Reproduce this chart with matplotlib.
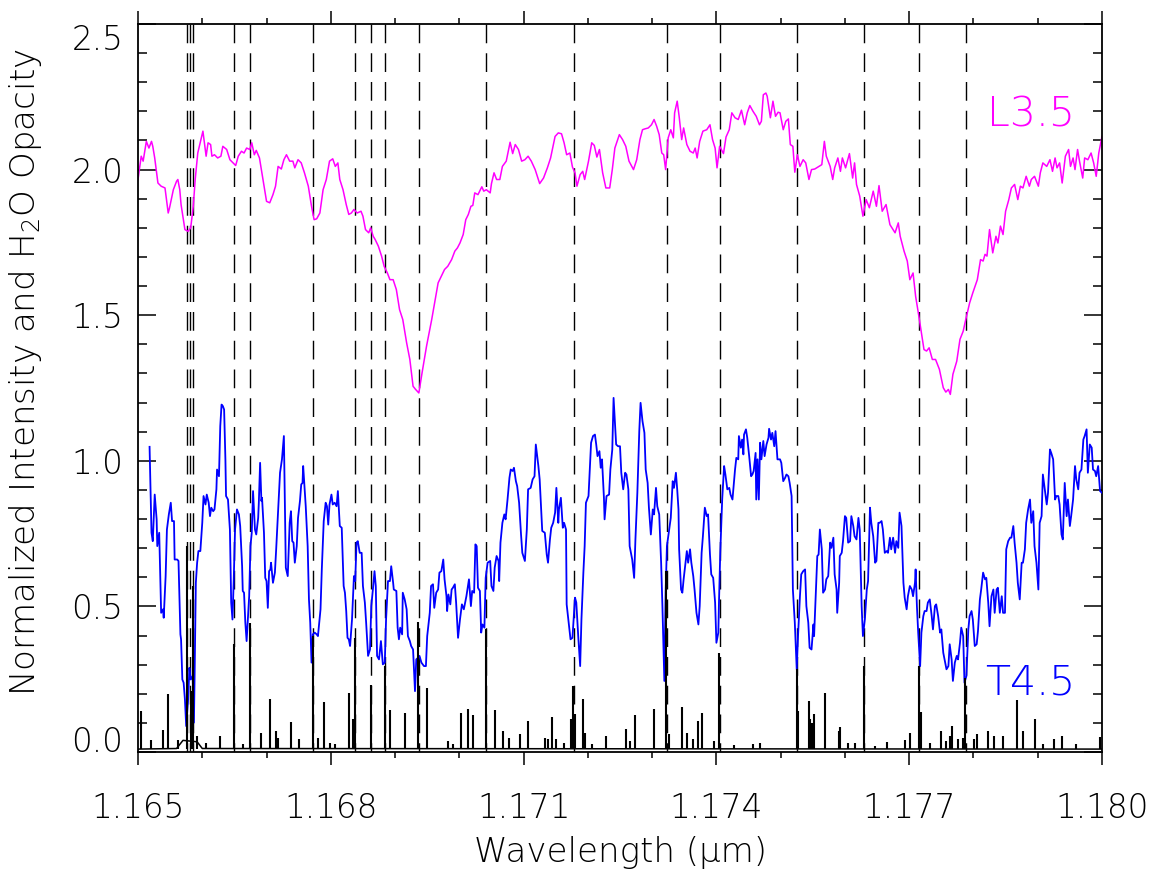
import matplotlib
matplotlib.use("Agg")
import matplotlib.pyplot as plt
from matplotlib.ticker import FixedLocator, MultipleLocator, FormatStrFormatter

# ---- data (wavelength in micron) ----
# L3.5 spectrum (offset, magenta)
L35_WL = [
    1.16500, 1.16505, 1.16508, 1.16513, 1.16517, 1.16521, 1.16523, 1.16526, 1.16531, 1.16536,
    1.16542, 1.16547, 1.16549, 1.16555, 1.16560, 1.16562, 1.16565, 1.16567, 1.16573, 1.16578,
    1.16582, 1.16586, 1.16589, 1.16593, 1.16598, 1.16601, 1.16604, 1.16606, 1.16609, 1.16613,
    1.16615, 1.16619, 1.16624, 1.16629, 1.16632, 1.16638, 1.16643, 1.16648, 1.16652, 1.16656,
    1.16661, 1.16665, 1.16669, 1.16674, 1.16677, 1.16681, 1.16684, 1.16689, 1.16695, 1.16700,
    1.16705, 1.16710, 1.16714, 1.16718, 1.16723, 1.16727, 1.16731, 1.16736, 1.16741, 1.16744,
    1.16749, 1.16754, 1.16759, 1.16765, 1.16770, 1.16774, 1.16778, 1.16783, 1.16788, 1.16793,
    1.16798, 1.16803, 1.16807, 1.16811, 1.16814, 1.16819, 1.16824, 1.16828, 1.16832, 1.16836,
    1.16841, 1.16847, 1.16850, 1.16854, 1.16859, 1.16862, 1.16866, 1.16869, 1.16874, 1.16879,
    1.16883, 1.16888, 1.16892, 1.16897, 1.16902, 1.16907, 1.16912, 1.16918, 1.16923, 1.16928,
    1.16932, 1.16937, 1.16942, 1.16949, 1.16957, 1.16963, 1.16967, 1.16972, 1.16977, 1.16982,
    1.16988, 1.16993, 1.16997,
    1.17001, 1.17006, 1.17010, 1.17014, 1.17018, 1.17021, 1.17024, 1.17029, 1.17035, 1.17038,
    1.17042, 1.17048, 1.17050, 1.17054, 1.17058, 1.17063, 1.17067, 1.17073, 1.17075, 1.17079,
    1.17083, 1.17087, 1.17092, 1.17097, 1.17102, 1.17107, 1.17112, 1.17118, 1.17125, 1.17131,
    1.17137, 1.17142, 1.17149, 1.17154, 1.17159, 1.17163, 1.17167, 1.17172, 1.17176, 1.17180,
    1.17183, 1.17188, 1.17192, 1.17195, 1.17201, 1.17206, 1.17210, 1.17214, 1.17218, 1.17223,
    1.17228, 1.17234, 1.17238, 1.17242, 1.17249, 1.17254, 1.17259, 1.17264, 1.17271, 1.17276,
    1.17281, 1.17285, 1.17289, 1.17294, 1.17299, 1.17303, 1.17307, 1.17311, 1.17315, 1.17318,
    1.17321, 1.17325, 1.17329, 1.17333, 1.17335, 1.17339, 1.17342, 1.17346, 1.17349, 1.17354,
    1.17359, 1.17364, 1.17367, 1.17370, 1.17374, 1.17379, 1.17385, 1.17390, 1.17394, 1.17398,
    1.17401, 1.17405, 1.17411, 1.17415, 1.17420, 1.17424, 1.17429, 1.17434, 1.17439, 1.17444,
    1.17448, 1.17452, 1.17457, 1.17462, 1.17467, 1.17470, 1.17473, 1.17477, 1.17479, 1.17484,
    1.17488, 1.17492, 1.17496,
    1.17499, 1.17504, 1.17508, 1.17512, 1.17515, 1.17519, 1.17522, 1.17526, 1.17530, 1.17535,
    1.17539, 1.17544, 1.17548, 1.17553, 1.17558, 1.17564, 1.17568, 1.17571, 1.17577, 1.17581,
    1.17584, 1.17589, 1.17593, 1.17596, 1.17601, 1.17607, 1.17612, 1.17615, 1.17618, 1.17623,
    1.17628, 1.17633, 1.17638, 1.17644, 1.17649, 1.17653, 1.17658, 1.17664, 1.17670, 1.17678,
    1.17683, 1.17686, 1.17692, 1.17697, 1.17701, 1.17706, 1.17710, 1.17715, 1.17719, 1.17723,
    1.17727, 1.17731, 1.17736, 1.17741, 1.17747, 1.17753, 1.17757, 1.17761, 1.17764, 1.17768,
    1.17774, 1.17779, 1.17784, 1.17788, 1.17794, 1.17799, 1.17806, 1.17811, 1.17815, 1.17818,
    1.17821, 1.17825, 1.17830, 1.17835, 1.17838, 1.17842, 1.17846, 1.17850, 1.17855, 1.17859,
    1.17864, 1.17869, 1.17873, 1.17877, 1.17882, 1.17887, 1.17890, 1.17895, 1.17901, 1.17904,
    1.17908, 1.17914, 1.17919, 1.17923, 1.17927, 1.17930, 1.17934, 1.17938, 1.17943, 1.17948,
    1.17951, 1.17955, 1.17958, 1.17962, 1.17965, 1.17970, 1.17973, 1.17978, 1.17983, 1.17987,
    1.17991, 1.17995, 1.18000,
]
L35_VAL = [
    1.966, 2.046, 2.029, 2.097, 2.074, 2.097, 2.080, 2.040, 1.954, 1.943,
    1.937, 1.851, 1.868, 1.931, 1.960, 1.966, 1.931, 1.880, 1.794, 1.788,
    1.800, 1.874, 1.966, 2.057, 2.103, 2.132, 2.080, 2.046, 2.092, 2.086,
    2.046, 2.051, 2.040, 2.046, 2.080, 2.069, 2.034, 2.023, 2.014, 2.046,
    2.063, 2.057, 2.074, 2.069, 2.092, 2.051, 2.066, 2.040, 1.960, 1.891,
    1.886, 1.914, 1.943, 2.011, 2.002, 2.034, 2.051, 2.029, 2.029, 2.006,
    2.034, 2.023, 1.989, 1.943, 1.874, 1.828, 1.831, 1.851, 1.931, 1.966,
    2.029, 2.037, 2.011, 2.023, 1.966, 1.931, 1.880, 1.846, 1.851, 1.863,
    1.851, 1.857, 1.840, 1.794, 1.783, 1.800, 1.771, 1.760, 1.737, 1.703,
    1.668, 1.645, 1.622, 1.622, 1.588, 1.519, 1.485, 1.405, 1.348, 1.256,
    1.245, 1.233, 1.302, 1.394, 1.485, 1.560, 1.611, 1.634, 1.657, 1.668,
    1.691, 1.720, 1.731,
    1.748, 1.777, 1.828, 1.846, 1.874, 1.877, 1.920, 1.914, 1.941, 1.926,
    1.931, 1.920, 1.952, 1.989, 1.966, 1.966, 2.011, 2.029, 2.051, 2.094,
    2.055, 2.086, 2.069, 2.029, 2.034, 2.046, 2.029, 2.000, 1.952, 1.971,
    2.006, 2.040, 2.114, 2.126, 2.123, 2.092, 2.051, 2.057, 2.009, 1.989,
    1.943, 1.983, 1.994, 1.966, 2.029, 2.092, 2.083, 2.043, 2.069, 1.989,
    1.937, 1.937, 2.000, 2.074, 2.120, 2.103, 2.080, 2.029, 2.000, 2.034,
    2.103, 2.137, 2.140, 2.143, 2.154, 2.172, 2.149, 2.120, 2.057, 2.051,
    2.000, 2.109, 2.137, 2.109, 2.195, 2.235, 2.183, 2.103, 2.143, 2.086,
    2.063, 2.057, 2.074, 2.040, 2.097, 2.132, 2.137, 2.154, 2.103, 2.074,
    2.006, 2.080, 2.055, 2.112, 2.137, 2.195, 2.178, 2.172, 2.204, 2.154,
    2.195, 2.220, 2.200, 2.183, 2.154, 2.166, 2.257, 2.263, 2.252, 2.178,
    2.235, 2.183, 2.197,
    2.195, 2.137, 2.166, 2.174, 2.086, 2.080, 1.991, 2.051, 2.011, 2.034,
    2.023, 1.966, 2.000, 2.002, 2.009, 2.017, 2.097, 2.046, 2.011, 1.966,
    2.006, 2.040, 1.994, 2.040, 2.006, 2.055, 1.971, 2.023, 1.949, 1.909,
    1.840, 1.897, 1.869, 1.926, 1.874, 1.945, 1.857, 1.880, 1.811, 1.783,
    1.817, 1.771, 1.720, 1.686, 1.622, 1.645, 1.565, 1.497, 1.439, 1.382,
    1.377, 1.388, 1.348, 1.348, 1.314, 1.251, 1.236, 1.245, 1.228, 1.297,
    1.342, 1.417, 1.445, 1.485, 1.542, 1.577, 1.622, 1.691, 1.686, 1.709,
    1.703, 1.794, 1.714, 1.771, 1.748, 1.806, 1.777, 1.857, 1.897, 1.937,
    1.949, 1.897, 1.943, 1.937, 1.977, 1.943, 1.966, 1.977, 1.943, 1.989,
    2.023, 2.011, 2.034, 1.994, 2.040, 2.006, 2.023, 1.954, 2.046, 2.069,
    2.011, 2.040, 2.000, 2.069, 2.029, 1.971, 2.040, 2.034, 2.057, 2.023,
    1.977, 2.057, 2.114,
]

# T4.5 spectrum (blue)
T45_WL = [
    1.16518, 1.16521, 1.16523, 1.16526, 1.16529, 1.16530, 1.16533, 1.16536, 1.16539, 1.16540,
    1.16543, 1.16545, 1.16548, 1.16551, 1.16553, 1.16556, 1.16557, 1.16561, 1.16563, 1.16566,
    1.16567, 1.16569, 1.16571, 1.16573, 1.16575, 1.16578, 1.16580, 1.16582, 1.16585, 1.16587,
    1.16588, 1.16590, 1.16592, 1.16594, 1.16597, 1.16600, 1.16602, 1.16605, 1.16607, 1.16610,
    1.16612, 1.16614, 1.16617, 1.16619, 1.16622, 1.16623, 1.16626, 1.16628, 1.16630, 1.16632,
    1.16634, 1.16636, 1.16637, 1.16640, 1.16643, 1.16645, 1.16647, 1.16649, 1.16651, 1.16654,
    1.16657, 1.16659, 1.16662, 1.16663, 1.16665, 1.16667, 1.16669, 1.16671, 1.16673, 1.16675,
    1.16677, 1.16679, 1.16682, 1.16684, 1.16687, 1.16688, 1.16690, 1.16692, 1.16693, 1.16696,
    1.16698, 1.16700, 1.16702, 1.16704, 1.16706, 1.16707, 1.16710, 1.16713, 1.16715, 1.16719,
    1.16721, 1.16724, 1.16727, 1.16730, 1.16733, 1.16736, 1.16738, 1.16740, 1.16742, 1.16744,
    1.16747, 1.16749, 1.16752, 1.16754, 1.16756, 1.16757, 1.16759, 1.16761, 1.16764, 1.16766,
    1.16768, 1.16770, 1.16772, 1.16775, 1.16778, 1.16780, 1.16784, 1.16786, 1.16789, 1.16792,
    1.16794, 1.16796, 1.16798, 1.16801, 1.16803, 1.16806, 1.16809, 1.16811, 1.16814, 1.16817,
    1.16820, 1.16822, 1.16824, 1.16826, 1.16828, 1.16830, 1.16833, 1.16836, 1.16838, 1.16840,
    1.16842, 1.16845, 1.16848, 1.16850, 1.16853, 1.16855, 1.16858, 1.16861, 1.16863, 1.16866,
    1.16868, 1.16870, 1.16872, 1.16875, 1.16878, 1.16881, 1.16884, 1.16886, 1.16889, 1.16892,
    1.16894, 1.16897, 1.16898, 1.16902, 1.16904, 1.16906, 1.16908, 1.16911, 1.16912, 1.16915,
    1.16918, 1.16920, 1.16923, 1.16925, 1.16928, 1.16931, 1.16933, 1.16936, 1.16938, 1.16941,
    1.16945, 1.16948, 1.16950, 1.16954, 1.16956, 1.16959, 1.16961, 1.16964, 1.16967, 1.16969,
    1.16972, 1.16975, 1.16977, 1.16980, 1.16981, 1.16983, 1.16986, 1.16988, 1.16990, 1.16993,
    1.16995, 1.16998,
    1.17001, 1.17004, 1.17007, 1.17011, 1.17015, 1.17018, 1.17020, 1.17023, 1.17025, 1.17027,
    1.17029, 1.17032, 1.17034, 1.17036, 1.17039, 1.17041, 1.17044, 1.17048, 1.17050, 1.17053,
    1.17055, 1.17058, 1.17061, 1.17062, 1.17064, 1.17067, 1.17070, 1.17072, 1.17075, 1.17078,
    1.17080, 1.17083, 1.17085, 1.17088, 1.17090, 1.17093, 1.17096, 1.17098, 1.17102, 1.17105,
    1.17107, 1.17111, 1.17114, 1.17117, 1.17119, 1.17123, 1.17125, 1.17129, 1.17133, 1.17136,
    1.17138, 1.17141, 1.17143, 1.17146, 1.17149, 1.17151, 1.17154, 1.17155, 1.17158, 1.17161,
    1.17163, 1.17166, 1.17167, 1.17169, 1.17173, 1.17176, 1.17180, 1.17182, 1.17185, 1.17188,
    1.17190, 1.17193, 1.17195, 1.17197, 1.17201, 1.17205, 1.17208, 1.17211, 1.17213, 1.17215,
    1.17218, 1.17220, 1.17222, 1.17225, 1.17226, 1.17229, 1.17233, 1.17235, 1.17238, 1.17240,
    1.17244, 1.17247, 1.17250, 1.17252, 1.17255, 1.17258, 1.17260, 1.17263, 1.17265, 1.17269,
    1.17272, 1.17274, 1.17277, 1.17280, 1.17282, 1.17285, 1.17288, 1.17290, 1.17293, 1.17295,
    1.17298, 1.17301, 1.17303, 1.17306, 1.17308, 1.17311, 1.17314, 1.17316, 1.17319, 1.17321,
    1.17323, 1.17327, 1.17329, 1.17332, 1.17334, 1.17337, 1.17339, 1.17341, 1.17342, 1.17345,
    1.17347, 1.17349, 1.17351, 1.17354, 1.17356, 1.17359, 1.17361, 1.17364, 1.17366, 1.17369,
    1.17372, 1.17374, 1.17377, 1.17379, 1.17382, 1.17385, 1.17387, 1.17390, 1.17392, 1.17395,
    1.17398, 1.17400, 1.17403, 1.17404, 1.17406, 1.17409, 1.17412, 1.17414, 1.17417, 1.17420,
    1.17422, 1.17425, 1.17429, 1.17431, 1.17434, 1.17435, 1.17438, 1.17440, 1.17442, 1.17443,
    1.17446, 1.17448, 1.17451, 1.17454, 1.17456, 1.17458, 1.17461, 1.17462, 1.17464, 1.17466,
    1.17468, 1.17470, 1.17473, 1.17475, 1.17478, 1.17481, 1.17482, 1.17485, 1.17487, 1.17490,
    1.17492, 1.17495,
    1.17499, 1.17501, 1.17504, 1.17507, 1.17509, 1.17512, 1.17514, 1.17517, 1.17519, 1.17522,
    1.17525, 1.17527, 1.17530, 1.17532, 1.17535, 1.17538, 1.17540, 1.17543, 1.17545, 1.17548,
    1.17551, 1.17552, 1.17555, 1.17557, 1.17559, 1.17561, 1.17564, 1.17566, 1.17569, 1.17571,
    1.17574, 1.17577, 1.17579, 1.17582, 1.17584, 1.17587, 1.17588, 1.17591, 1.17592, 1.17595,
    1.17597, 1.17600, 1.17602, 1.17605, 1.17608, 1.17610, 1.17613, 1.17615, 1.17618, 1.17621,
    1.17623, 1.17626, 1.17628, 1.17631, 1.17634, 1.17636, 1.17639, 1.17641, 1.17644, 1.17647,
    1.17649, 1.17652, 1.17654, 1.17657, 1.17659, 1.17662, 1.17665, 1.17667, 1.17670, 1.17672,
    1.17675, 1.17678, 1.17680, 1.17683, 1.17685, 1.17688, 1.17691, 1.17693, 1.17696, 1.17698,
    1.17701, 1.17704, 1.17706, 1.17709, 1.17710, 1.17712, 1.17714, 1.17717, 1.17719, 1.17722,
    1.17724, 1.17727, 1.17729, 1.17732, 1.17735, 1.17737, 1.17740, 1.17742, 1.17745, 1.17748,
    1.17750, 1.17753, 1.17755, 1.17758, 1.17761, 1.17763, 1.17766, 1.17768, 1.17771, 1.17774,
    1.17776, 1.17779, 1.17781, 1.17784, 1.17786, 1.17789, 1.17792, 1.17794, 1.17797, 1.17799,
    1.17802, 1.17805, 1.17807, 1.17810, 1.17812, 1.17815, 1.17818, 1.17820, 1.17823, 1.17825,
    1.17828, 1.17831, 1.17833, 1.17836, 1.17838, 1.17841, 1.17844, 1.17846, 1.17849, 1.17851,
    1.17854, 1.17857, 1.17859, 1.17862, 1.17864, 1.17867, 1.17869, 1.17872, 1.17875, 1.17877,
    1.17880, 1.17882, 1.17885, 1.17888, 1.17890, 1.17893, 1.17895, 1.17898, 1.17901, 1.17903,
    1.17906, 1.17908, 1.17911, 1.17914, 1.17916, 1.17919, 1.17921, 1.17924, 1.17927, 1.17929,
    1.17932, 1.17934, 1.17937, 1.17939, 1.17942, 1.17945, 1.17947, 1.17950, 1.17952, 1.17955,
    1.17958, 1.17960, 1.17963, 1.17965, 1.17968, 1.17971, 1.17973, 1.17976, 1.17978, 1.17981,
    1.17984, 1.17986, 1.17989, 1.17991, 1.17994, 1.17997, 1.18000,
]
T45_VAL = [
    1.048, 0.753, 0.724, 0.884, 0.799, 0.707, 0.753, 0.478, 0.490, 0.461,
    0.604, 0.764, 0.816, 0.856, 0.793, 0.793, 0.661, 0.661, 0.656, 0.404,
    0.387, 0.249, 0.238, 0.181, 0.089, 0.181, 0.289, 0.249, 0.261, 0.101,
    0.249, 0.581, 0.650, 0.690, 0.690, 0.787, 0.879, 0.850, 0.884, 0.856,
    0.810, 0.839, 0.827, 0.833, 0.902, 0.970, 0.947, 1.119, 1.193, 1.188,
    1.176, 1.005, 0.879, 0.867, 0.764, 0.513, 0.455, 0.593, 0.764, 0.833,
    0.816, 0.776, 0.638, 0.553, 0.547, 0.444, 0.381, 0.455, 0.535, 0.707,
    0.753, 0.896, 0.764, 0.747, 0.804, 0.856, 0.993, 0.862, 0.873, 0.753,
    0.598, 0.587, 0.495, 0.621, 0.627, 0.650, 0.581, 0.616, 0.696, 0.867,
    0.959, 1.005, 1.085, 0.633, 0.604, 0.787, 0.827, 0.724, 0.719, 0.650,
    0.707, 0.804, 0.862, 0.919, 0.924, 0.982, 0.913, 0.844, 0.707, 0.524,
    0.444, 0.307, 0.404, 0.410, 0.404, 0.398, 0.490, 0.627, 0.793, 0.856,
    0.844, 0.781, 0.850, 0.884, 0.850, 0.856, 0.844, 0.896, 0.776, 0.770,
    0.570, 0.547, 0.484, 0.392, 0.387, 0.364, 0.455, 0.604, 0.587, 0.719,
    0.724, 0.684, 0.684, 0.570, 0.513, 0.444, 0.330, 0.352, 0.501, 0.570,
    0.621, 0.570, 0.330, 0.318, 0.381, 0.301, 0.307, 0.455, 0.587, 0.587,
    0.638, 0.581, 0.558, 0.553, 0.427, 0.387, 0.427, 0.404, 0.547, 0.524,
    0.490, 0.398, 0.381, 0.364, 0.352, 0.209, 0.318, 0.324, 0.330, 0.307,
    0.295, 0.295, 0.398, 0.478, 0.570, 0.576, 0.495, 0.547, 0.558, 0.616,
    0.621, 0.661, 0.593, 0.535, 0.484, 0.541, 0.507, 0.558, 0.564, 0.576,
    0.513, 0.392,
    0.455, 0.507, 0.490, 0.535, 0.593, 0.501, 0.553, 0.547, 0.713, 0.707,
    0.564, 0.553, 0.410, 0.438, 0.427, 0.598, 0.650, 0.656, 0.570, 0.553,
    0.633, 0.673, 0.656, 0.587, 0.719, 0.787, 0.816, 0.799, 0.867, 0.942,
    0.970, 0.965, 0.976, 0.930, 0.913, 0.856, 0.747, 0.684, 0.656, 0.764,
    0.902, 0.907, 0.936, 0.947, 1.056, 0.982, 0.936, 0.759, 0.753, 0.678,
    0.650, 0.730, 0.770, 0.787, 0.822, 0.907, 0.787, 0.833, 0.873, 0.770,
    0.787, 0.764, 0.507, 0.467, 0.387, 0.392, 0.530, 0.513, 0.398, 0.295,
    0.455, 0.616, 0.707, 0.856, 0.879, 1.062, 1.085, 1.090, 1.056, 1.016,
    1.033, 0.976, 1.005, 0.873, 0.799, 0.879, 0.884, 0.970, 1.039, 1.216,
    1.056, 1.050, 1.050, 0.959, 0.902, 0.959, 0.953, 0.902, 0.707, 0.661,
    0.598, 0.730, 0.890, 1.102, 1.199, 1.136, 1.096, 0.970, 0.924, 0.839,
    0.747, 0.833, 0.816, 0.907, 0.844, 0.816, 0.650, 0.501, 0.244, 0.547,
    0.707, 0.770, 0.804, 0.930, 0.907, 0.959, 0.902, 0.833, 0.696, 0.558,
    0.547, 0.593, 0.633, 0.690, 0.650, 0.696, 0.650, 0.604, 0.558, 0.478,
    0.438, 0.501, 0.684, 0.741, 0.839, 0.810, 0.816, 0.678, 0.610, 0.598,
    0.513, 0.375, 0.410, 0.513, 0.684, 0.867, 0.982, 0.953, 0.902, 0.907,
    0.884, 0.867, 0.970, 1.010, 1.005, 1.085, 1.045, 1.073, 1.022, 1.090,
    1.108, 1.079, 1.016, 0.947, 0.953, 0.965, 1.027, 0.867, 1.005, 0.867,
    1.062, 1.005, 1.068, 1.016, 1.056, 1.079, 1.110, 1.073, 1.096, 1.050,
    1.102, 1.005,
    1.005, 0.993, 0.930, 0.942, 0.953, 0.947, 0.924, 0.879, 0.558, 0.444,
    0.284, 0.398, 0.535, 0.610, 0.621, 0.627, 0.501, 0.444, 0.358, 0.352,
    0.438, 0.398, 0.558, 0.673, 0.678, 0.764, 0.696, 0.547, 0.558, 0.593,
    0.604, 0.719, 0.701, 0.736, 0.610, 0.558, 0.478, 0.581, 0.673, 0.684,
    0.724, 0.810, 0.804, 0.719, 0.724, 0.810, 0.776, 0.741, 0.730, 0.804,
    0.764, 0.501, 0.398, 0.455, 0.558, 0.587, 0.839, 0.787, 0.741, 0.650,
    0.656, 0.787, 0.787, 0.793, 0.764, 0.684, 0.690, 0.684, 0.736, 0.696,
    0.736, 0.684, 0.724, 0.701, 0.822, 0.776, 0.581, 0.530, 0.490, 0.535,
    0.570, 0.558, 0.535, 0.581, 0.627, 0.501, 0.410, 0.295, 0.410, 0.467,
    0.484, 0.484, 0.513, 0.524, 0.467, 0.421, 0.501, 0.507, 0.467, 0.410,
    0.421, 0.341, 0.318, 0.284, 0.295, 0.370, 0.318, 0.244, 0.307, 0.330,
    0.318, 0.375, 0.427, 0.398, 0.238, 0.261, 0.421, 0.467, 0.484, 0.455,
    0.364, 0.370, 0.415, 0.524, 0.558, 0.616, 0.593, 0.598, 0.513, 0.432,
    0.535, 0.558, 0.478, 0.558, 0.564, 0.478, 0.535, 0.478, 0.478, 0.696,
    0.724, 0.736, 0.736, 0.776, 0.719, 0.650, 0.581, 0.524, 0.650, 0.650,
    0.696, 0.787, 0.833, 0.867, 0.787, 0.827, 0.707, 0.650, 0.558, 0.787,
    0.810, 0.953, 0.902, 0.850, 0.890, 1.039, 1.027, 1.005, 0.867, 0.879,
    0.879, 0.850, 0.747, 0.730, 0.924, 0.810, 0.867, 0.776, 0.810, 0.867,
    0.982, 0.936, 0.902, 0.959, 0.970, 1.073, 1.085, 1.108, 0.959, 1.056,
    1.045, 0.970, 0.965, 0.947, 0.982, 0.896, 0.890,
]

# H2O opacity: line centres and peak heights, plus the low continuum
H2O_WL = [
    1.16505, 1.16521, 1.16539, 1.16547, 1.16562, 1.16577, 1.16582, 1.16586, 1.16592, 1.16606,
    1.16627, 1.16650, 1.16663, 1.16675, 1.16691, 1.16705, 1.16714, 1.16718, 1.16738, 1.16751,
    1.16773, 1.16780, 1.16789, 1.16798, 1.16806, 1.16828, 1.16835, 1.16837, 1.16863, 1.16884,
    1.16892, 1.16915, 1.16936, 1.16950, 1.16982, 1.16990,
    1.17003, 1.17013, 1.17021, 1.17041, 1.17056, 1.17068, 1.17077, 1.17095, 1.17107, 1.17133,
    1.17138, 1.17144, 1.17151, 1.17163, 1.17174, 1.17177, 1.17180, 1.17192, 1.17195, 1.17207,
    1.17228, 1.17259, 1.17266, 1.17273, 1.17303, 1.17321, 1.17327, 1.17347, 1.17354, 1.17363,
    1.17372, 1.17377, 1.17396, 1.17404, 1.17427, 1.17457, 1.17468,
    1.17525, 1.17527, 1.17544, 1.17546, 1.17549, 1.17552, 1.17569, 1.17590, 1.17593, 1.17605,
    1.17615, 1.17629, 1.17647, 1.17666, 1.17693, 1.17701, 1.17715, 1.17719, 1.17733, 1.17749,
    1.17758, 1.17764, 1.17767, 1.17776, 1.17783, 1.17787, 1.17801, 1.17805, 1.17823, 1.17832,
    1.17846, 1.17867, 1.17877, 1.17895, 1.17908, 1.17925, 1.17938, 1.17960, 1.17997,
]
H2O_VAL = [
    0.141, 0.041, 0.076, 0.198, 0.041, 0.707, 0.209, 0.570, 0.055, 0.032,
    0.055, 0.370, 0.026, 0.444, 0.066, 0.183, 0.072, 0.049, 0.104, 0.046,
    0.398, 0.049, 0.173, 0.032, 0.026, 0.201, 0.112, 0.392, 0.229, 0.297,
    0.143, 0.133, 0.446, 0.221, 0.038, 0.026,
    0.133, 0.146, 0.126, 0.421, 0.143, 0.072, 0.049, 0.061, 0.106, 0.049,
    0.043, 0.120, 0.043, 0.032, 0.114, 0.227, 0.129, 0.181, 0.066, 0.026,
    0.055, 0.078, 0.038, 0.126, 0.149, 0.620, 0.061, 0.156, 0.064, 0.043,
    0.106, 0.135, 0.038, 0.341, 0.023, 0.026, 0.032,
    0.284, 0.141, 0.175, 0.112, 0.101, 0.129, 0.204, 0.072, 0.087, 0.032,
    0.032, 0.295, 0.020, 0.034, 0.041, 0.064, 0.295, 0.137, 0.032, 0.072,
    0.038, 0.055, 0.089, 0.043, 0.049, 0.255, 0.043, 0.061, 0.072, 0.055,
    0.055, 0.178, 0.072, 0.112, 0.026, 0.043, 0.055, 0.026, 0.051,
]
H2O_BASE_WL = [1.16500, 1.16560, 1.16570, 1.16592, 1.16600, 1.18000]
H2O_BASE_VAL = [0.010, 0.012, 0.040, 0.035, 0.012, 0.010]

# marked line positions (dashed)
MARK_WL = [1.16577, 1.16581, 1.16586, 1.16650, 1.16675, 1.16773, 1.16837, 1.16863, 1.16884,
           1.16937, 1.17042, 1.17178, 1.17323, 1.17405, 1.17525, 1.17629, 1.17716, 1.17788]

X_TICKS = [1.165, 1.168, 1.171, 1.174, 1.177, 1.180]
Y_TICKS = [0.0, 0.5, 1.0, 1.5, 2.0, 2.5]

plt.rcParams["font.family"] = ["DejaVu Sans"]
plt.rcParams["font.weight"] = "ultralight"
plt.rcParams["axes.labelweight"] = "ultralight"
plt.rcParams["mathtext.fontset"] = "dejavusans"

W, H = 1158, 874
fig = plt.figure(figsize=(W / 100, H / 100), dpi=100)
ax = fig.add_axes([138 / W, 1 - 752 / H, (1102 - 138) / W, (752 - 24) / H])

ax.vlines(MARK_WL, 2.5, 0.0, colors="black", linewidth=1.0,
          linestyles=[(0, (13.5, 7.2))], zorder=1)
ax.plot(L35_WL, L35_VAL, color="#ff00ff", lw=1.1, zorder=2)
ax.plot(T45_WL, T45_VAL, color="#0000ff", lw=1.3, zorder=3)
ax.plot(H2O_BASE_WL, H2O_BASE_VAL, color="black", lw=1.1, zorder=4)
ax.vlines(H2O_WL, 0.01, H2O_VAL, colors="black", lw=1.5, zorder=4)

ax.set_xlim(1.165, 1.180)
ax.set_ylim(0.0, 2.5)
ax.xaxis.set_major_locator(FixedLocator(X_TICKS))
ax.xaxis.set_minor_locator(MultipleLocator(0.001))
ax.xaxis.set_major_formatter(FormatStrFormatter("%.3f"))
ax.yaxis.set_major_locator(FixedLocator(Y_TICKS))
ax.yaxis.set_minor_locator(MultipleLocator(0.1))
ax.yaxis.set_major_formatter(FormatStrFormatter("%.1f"))

ax.tick_params(axis="x", which="both", direction="out", top=True, bottom=True, width=1.1)
ax.tick_params(axis="x", which="major", length=9.5, pad=19, labelsize=23.5)
ax.tick_params(axis="x", which="minor", length=4.5)
ax.tick_params(axis="y", which="both", direction="in", left=True, right=True, width=1.1)
ax.tick_params(axis="y", which="major", length=13, pad=10.5, labelsize=23.5)
ax.tick_params(axis="y", which="minor", length=6.5)
for sp in ax.spines.values():
    sp.set_linewidth(1.3)

# end labels sit inside the axis range, as in the original
ylabels = ax.get_yticklabels()
ylabels[0].set_va("baseline")
ylabels[-1].set_va("top")

ax.set_xlabel("Wavelength (\u00b5m)", fontsize=24.5, va="top")
ax.xaxis.set_label_coords(0.5, -0.115)
ax.set_ylabel(r"Normalized Intensity and H$_{\mathregular{2}}$O Opacity", fontsize=24.5)
ax.yaxis.set_label_coords(-0.097, 0.522)

ax.text(1.17958, 2.148, "L3.5", color="#ff00ff", fontsize=29.5, ha="right", va="baseline")
ax.text(1.17958, 0.198, "T4.5", color="#0000ff", fontsize=29.5, ha="right", va="baseline")

fig.savefig("out.png", dpi=100)
